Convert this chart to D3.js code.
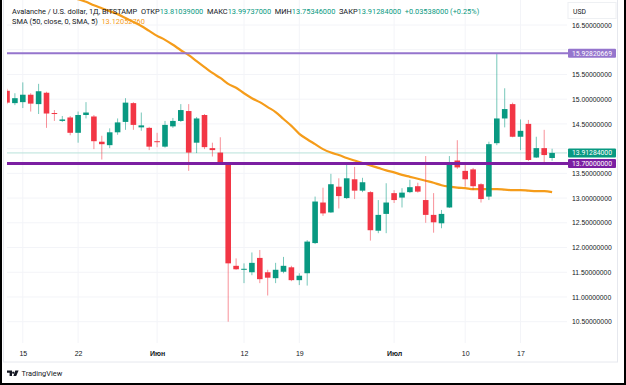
<!DOCTYPE html>
<html>
<head>
<meta charset="utf-8">
<script src="https://cdn.jsdelivr.net/npm/d3@7"></script>
<style>
  html, body { margin: 0; padding: 0; background: #fff; }
  svg { display: block; font-family: Roboto, "Open Sans", sans-serif; }
</style>
</head>
<body>
<script>
// DATA (daily AVAX/USD candles)
const DATES = [
  '2023-05-13','2023-05-14','2023-05-15','2023-05-16','2023-05-17','2023-05-18','2023-05-19','2023-05-20','2023-05-21','2023-05-22',
  '2023-05-23','2023-05-24','2023-05-25','2023-05-26','2023-05-27','2023-05-28','2023-05-29','2023-05-30','2023-05-31','2023-06-01',
  '2023-06-02','2023-06-03','2023-06-04','2023-06-05','2023-06-06','2023-06-07','2023-06-08','2023-06-09','2023-06-10','2023-06-11',
  '2023-06-12','2023-06-13','2023-06-14','2023-06-15','2023-06-16','2023-06-17','2023-06-18','2023-06-19','2023-06-20','2023-06-21',
  '2023-06-22','2023-06-23','2023-06-24','2023-06-25','2023-06-26','2023-06-27','2023-06-28','2023-06-29','2023-06-30','2023-07-01',
  '2023-07-02','2023-07-03','2023-07-04','2023-07-05','2023-07-06','2023-07-07','2023-07-08','2023-07-09','2023-07-10','2023-07-11',
  '2023-07-12','2023-07-13','2023-07-14','2023-07-15','2023-07-16','2023-07-17','2023-07-18','2023-07-19','2023-07-20','2023-07-21'
];
const OPEN = [
  15.17,14.92,14.94,15.09,14.90,15.13,14.72,14.56,14.63,14.32,
  14.68,14.65,14.14,14.07,14.33,14.54,14.92,14.43,14.42,14.15,
  14.04,14.45,14.56,14.76,14.12,14.68,14.01,13.92,13.69,11.63,
  11.55,11.50,11.79,11.50,11.38,11.51,11.60,11.34,11.48,12.09,
  12.91,12.71,13.23,13.00,13.38,13.15,13.12,12.34,12.68,13.10,
  13.01,13.12,13.24,12.96,12.66,12.49,12.81,13.76,13.55,13.58,
  13.28,13.03,14.11,14.61,14.90,14.24,14.50,13.82,14.01,13.81039
];
const HIGH = [
  15.21,15.12,15.34,15.12,15.31,15.15,14.78,14.66,14.66,14.75,
  14.94,14.68,14.26,14.41,14.61,15.02,14.94,14.73,14.44,14.32,
  14.56,14.62,14.90,14.90,14.64,14.70,14.12,14.23,13.71,11.78,
  11.68,11.90,11.95,11.55,11.69,11.81,11.63,11.48,12.15,13.03,
  13.21,13.49,13.40,13.67,13.63,13.41,13.14,12.96,13.30,13.16,
  13.20,13.37,13.31,13.85,13.10,12.76,13.85,14.17,13.67,13.61,
  13.30,14.14,15.928,15.22,14.93,14.59,14.58,14.24,14.38,13.99737
];
const LOW = [
  14.90,14.88,14.82,14.75,14.70,14.42,14.56,14.54,14.27,14.12,
  14.61,13.99,13.78,14.01,14.28,14.38,14.38,14.36,13.97,14.03,
  14.02,14.42,14.54,13.55,13.91,13.99,13.84,13.69,10.50,11.55,
  11.28,11.44,11.28,11.03,11.28,11.48,11.32,11.24,11.23,12.07,
  12.64,12.70,12.79,12.98,12.98,13.12,12.14,12.29,12.29,12.90,
  12.81,13.10,13.11,12.50,12.30,12.39,12.80,13.59,13.23,13.16,
  12.91,12.96,14.07,14.43,14.23,13.97,13.75,13.81,13.72,13.75346
];
const CLOSE = [
  14.93,15.02,15.09,14.91,15.16,14.71,14.70,14.59,14.32,14.68,
  14.73,14.15,14.09,14.33,14.53,14.93,14.48,14.47,14.04,14.13,
  14.48,14.56,14.78,13.92,14.61,14.03,13.97,13.70,11.68,11.56,
  11.57,11.69,11.36,11.39,11.55,11.63,11.34,11.43,12.12,12.93,
  12.69,13.28,13.04,13.40,13.15,13.32,12.35,12.66,12.91,12.96,
  13.11,13.22,13.13,12.66,12.51,12.68,13.67,13.62,13.38,13.24,
  12.98,14.09,14.61,14.80,14.24,14.36,13.77,14.01,13.87,13.91284
];
const SMA = [
  null,null,null,null,null,null,null,null,17.09,17.02,
  16.97,16.90,16.84,16.78,16.72,16.64,16.56,16.48,16.38,16.28,
  16.20,16.10,15.99,15.89,15.77,15.65,15.53,15.43,15.31,15.23,
  15.12,15.02,14.94,14.84,14.74,14.60,14.46,14.30,14.19,14.09,
  13.99,13.92,13.87,13.81,13.76,13.71,13.66,13.61,13.56,13.52,
  13.47,13.43,13.39,13.35,13.31,13.26,13.23,13.21,13.20,13.18,
  13.18,13.18,13.18,13.17,13.16,13.16,13.15,13.14,13.14,13.12
];
const PRICE_TICKS = [10.5,11,11.5,12,12.5,13,13.5,14,14.5,15,15.5,16,16.5];
const TIME_TICKS = ['2023-05-15','2023-05-22','2023-06-01','2023-06-12','2023-06-19','2023-07-01','2023-07-10','2023-07-17'];
const TIME_LABELS = ['15','22','Июн','12','19','Июл','10','17'];
const LEVELS = [
  {price: 15.92820669, label: '15.92820669', color: '#9575cd', width: 2},
  {price: 13.70, label: '13.70000000', color: '#7b1fa2', width: 3}
];
const LAST_PRICE = 13.91284;
const LEGEND_MAIN = [
  {t: 'Avalanche / U.S. dollar, 1Д, BITSTAMP  ', c: '#131722'},
  {t: 'ОТКР', c: '#131722'}, {t: '13.81039000  ', c: '#089981'},
  {t: 'МАКС', c: '#131722'}, {t: '13.99737000  ', c: '#089981'},
  {t: 'МИН', c: '#131722'}, {t: '13.75346000  ', c: '#089981'},
  {t: 'ЗАКР', c: '#131722'}, {t: '13.91284000  ', c: '#089981'},
  {t: '+0.03538000 (+0.25%)', c: '#089981'}
];

// CONSTANTS
const WIDTH = 626;
const HEIGHT = 385;
const PLOT_LEFT = 7;
const PLOT_RIGHT = 567;
const PLOT_BOTTOM = 343;
const BODY_W = 5.6;
const UP = '#089981';
const DOWN = '#f23645';
const SMA_COLOR = '#f59c1a';

const parse = d3.timeParse('%Y-%m-%d');
const candles = DATES.map((d, i) => ({
  date: parse(d), open: OPEN[i], high: HIGH[i], low: LOW[i], close: CLOSE[i], sma: SMA[i]
}));

const X_SCALE = d3.scaleTime()
  .domain([parse(DATES[0]), parse(DATES[DATES.length - 1])])
  .range([7, 552.1]);
const Y_SCALE = d3.scaleLinear()
  .domain([10.5, 16.5])
  .range([321.7, 25]);

const svg = d3.select('body')
  .append('svg')
  .attr('width', WIDTH)
  .attr('height', HEIGHT);

svg.append('rect').attr('width', WIDTH).attr('height', HEIGHT).attr('fill', '#fff');

svg.append('clipPath').attr('id', 'plot-clip')
  .append('rect')
  .attr('x', PLOT_LEFT).attr('y', 0)
  .attr('width', PLOT_RIGHT - PLOT_LEFT).attr('height', PLOT_BOTTOM);

const plot = svg.append('g').attr('clip-path', 'url(#plot-clip)');

// GRID
plot.selectAll('.vgrid')
  .data(TIME_TICKS)
  .enter().append('line')
  .attr('x1', d => X_SCALE(parse(d))).attr('x2', d => X_SCALE(parse(d)))
  .attr('y1', 0).attr('y2', PLOT_BOTTOM)
  .attr('stroke', '#f3f4f8');
plot.selectAll('.hgrid')
  .data(PRICE_TICKS)
  .enter().append('line')
  .attr('x1', PLOT_LEFT).attr('x2', PLOT_RIGHT)
  .attr('y1', d => Y_SCALE(d)).attr('y2', d => Y_SCALE(d))
  .attr('stroke', '#f3f4f8');

// LAST PRICE LINE
plot.append('line')
  .attr('x1', PLOT_LEFT).attr('x2', PLOT_RIGHT)
  .attr('y1', Y_SCALE(LAST_PRICE)).attr('y2', Y_SCALE(LAST_PRICE))
  .attr('stroke', '#b9e2da').attr('stroke-width', 1);

// SMA
plot.append('path')
  .datum(candles.filter(d => d.sma !== null))
  .attr('fill', 'none')
  .attr('stroke', SMA_COLOR)
  .attr('stroke-width', 2.2)
  .attr('d', d3.line().x(d => X_SCALE(d.date)).y(d => Y_SCALE(d.sma)).curve(d3.curveMonotoneX));

// CANDLES
const candle = plot.selectAll('.candle')
  .data(candles)
  .enter().append('g');

candle.append('line')
  .attr('x1', d => X_SCALE(d.date)).attr('x2', d => X_SCALE(d.date))
  .attr('y1', d => Y_SCALE(d.high)).attr('y2', d => Y_SCALE(d.low))
  .attr('stroke', d => d.close >= d.open ? UP : DOWN)
  .attr('stroke-opacity', 0.55)
  .attr('stroke-width', 1);

candle.append('rect')
  .attr('x', d => X_SCALE(d.date) - BODY_W / 2)
  .attr('y', d => Y_SCALE(Math.max(d.open, d.close)))
  .attr('width', BODY_W)
  .attr('height', d => Math.max(1, Math.abs(Y_SCALE(d.open) - Y_SCALE(d.close))))
  .attr('fill', d => d.close >= d.open ? UP : DOWN);

// HORIZONTAL LEVELS
svg.selectAll('.level')
  .data(LEVELS)
  .enter().append('line')
  .attr('x1', PLOT_LEFT).attr('x2', PLOT_RIGHT + 2)
  .attr('y1', d => Y_SCALE(d.price)).attr('y2', d => Y_SCALE(d.price))
  .attr('stroke', d => d.color)
  .attr('stroke-width', d => d.width);

// Y-AXIS (labels hidden under a price box are dropped)
const boxes = LEVELS.map(d => ({price: d.price, label: d.label, color: d.color}))
  .concat([{price: LAST_PRICE, label: '13.91284000', color: UP}]);
const visibleTicks = PRICE_TICKS.filter(t => boxes.every(b => Math.abs(Y_SCALE(t) - Y_SCALE(b.price)) > 7));
const Y_AXIS = d3.axisRight(Y_SCALE)
  .tickValues(visibleTicks)
  .tickFormat(d3.format('.8f'))
  .tickSize(0)
  .tickPadding(0);
const yAxis = svg.append('g')
  .attr('transform', 'translate(572,0)')
  .call(Y_AXIS);
yAxis.select('.domain').remove();
yAxis.selectAll('text')
  .attr('fill', '#131722')
  .style('font-size', '6.8px');

// PRICE LABEL BOXES
const box = svg.selectAll('.pbox')
  .data(boxes)
  .enter().append('g');
box.append('rect')
  .attr('x', 568).attr('y', d => Y_SCALE(d.price) - 4.5)
  .attr('width', 48).attr('height', 9)
  .attr('rx', 1)
  .attr('fill', d => d.color);
box.append('text')
  .attr('x', 572).attr('y', d => Y_SCALE(d.price))
  .attr('dy', '0.34em')
  .attr('fill', '#fff')
  .style('font-size', '6.8px')
  .text(d => d.label);

// USD BOX
svg.append('rect')
  .attr('x', 568).attr('y', 2.5).attr('width', 48).attr('height', 16)
  .attr('fill', '#fff').attr('stroke', '#eef0f3');
svg.append('text')
  .attr('x', 573).attr('y', 13.5)
  .attr('fill', '#131722')
  .style('font-size', '6.8px')
  .text('USD');

// X-AXIS
const X_AXIS = d3.axisBottom(X_SCALE)
  .tickValues(TIME_TICKS.map(parse))
  .tickFormat((d, i) => TIME_LABELS[i])
  .tickSize(0)
  .tickPadding(3);
const xAxis = svg.append('g')
  .attr('transform', 'translate(0,348.5)')
  .call(X_AXIS);
xAxis.select('.domain').remove();
xAxis.selectAll('text')
  .attr('fill', '#131722')
  .style('font-size', '7px')
  .style('font-weight', (d, i) => /[А-я]/.test(TIME_LABELS[i]) ? 'bold' : 'normal');

// LEGEND
const legend = svg.append('text')
  .attr('x', 12).attr('y', 13.5)
  .style('font-size', '7.4px')
  .attr('xml:space', 'preserve');
legend.selectAll('tspan')
  .data(LEGEND_MAIN)
  .enter().append('tspan')
  .attr('fill', d => d.c)
  .text(d => d.t);

const legend2 = svg.append('text')
  .attr('x', 12).attr('y', 23.5)
  .style('font-size', '7.4px')
  .attr('xml:space', 'preserve');
legend2.append('tspan').attr('fill', '#131722').text('SMA (50, close, 0, SMA, 5)  ');
legend2.append('tspan').attr('fill', SMA_COLOR).text('13.12052760');

// FRAME
svg.append('rect')
  .attr('x', 3.5).attr('y', -1).attr('width', 614).attr('height', 363)
  .attr('fill', 'none').attr('stroke', '#e6e8ee');
svg.append('path')
  .attr('d', 'M1,0 V384 H625 V0')
  .attr('fill', 'none')
  .attr('stroke', '#000')
  .attr('stroke-width', 2);

// TRADINGVIEW LOGO
const logo = svg.append('g').attr('transform', 'translate(7,370.5)');
logo.append('path')
  .attr('d', 'M0,0 H5 V5.5 H2.6 V2.2 H0 Z M6.2,1.1 a1.1,1.1 0 1,0 0.01,0 Z M8.3,0 H11.6 L9.2,5.5 H6.4 Z')
  .attr('fill', '#131722');
svg.append('text')
  .attr('x', 21.5).attr('y', 376)
  .attr('fill', '#131722')
  .style('font-size', '7.4px')
  .text('TradingView');
</script>
</body>
</html>
